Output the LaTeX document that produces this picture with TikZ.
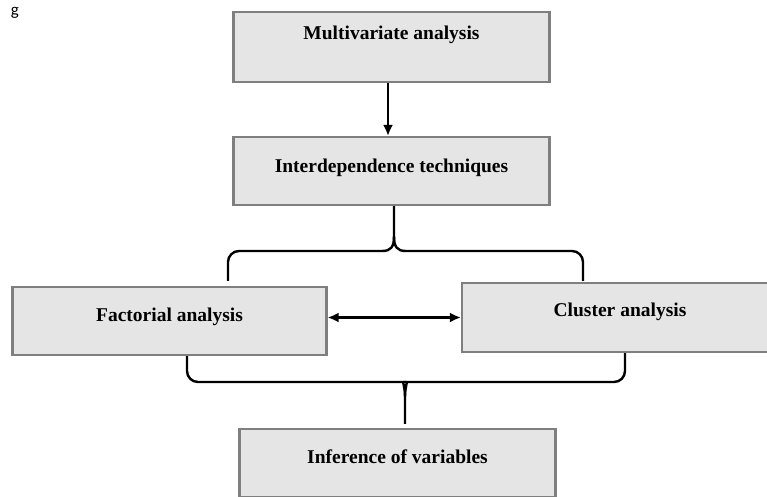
\documentclass[tikz,border=0pt]{standalone}
\usepackage{fontspec}
\setmainfont{Liberation Serif}
\newfontfamily\gfont{Carlito}
\usepackage{tikz}
\usetikzlibrary{arrows.meta}

\definecolor{boxfill}{HTML}{E5E5E5}
\definecolor{boxline}{HTML}{7F7F7F}

\begin{document}
\begin{tikzpicture}[x=1pt,y=-1pt,
		tbox/.style={draw=boxline,fill=boxfill,line width=2.2pt,inner sep=0pt,minimum width=316pt,
			font=\fontsize{19.5}{22}\selectfont\bfseries},
		tip/.tip={Latex[length=11pt,width=10pt]},
		link/.style={line width=2.2pt},
		brace/.style={line width=2.4pt}]
		\useasboundingbox (0,0) rectangle (767,496);
		\node (g) at (15,13) {\gfont\fontsize{17}{20}\selectfont g};
		\node [tbox,text height=27pt,text depth=43pt] (multi) at (391.5,47) {Multivariate analysis};
		\node [tbox,text height=35pt,text depth=33pt] (inter) at (391.5,171) {Interdependence techniques};
		\node [tbox,text height=34pt,text depth=34pt,minimum width=314pt] (fact) at (169.5,321) {Factorial analysis};
		\node [tbox,text height=33pt,text depth=36pt] (clus) at (620,317.5) {Cluster analysis};
		\node [tbox,text height=34pt,text depth=34pt] (inf) at (397.5,463) {Inference of variables};
		\coordinate (tc) at (394,236);
		\coordinate (bc) at (405,397);
		\draw [link,-tip] ([xshift=-3.5pt]multi.south) -- ([xshift=-3.5pt]inter.north);
		\draw [link,tip-tip] (fact.east |- clus.west) -- (clus.west);
		% upper brace
		\draw [brace] ([xshift=2.5pt]inter.south) -- (tc) .. controls +(0,11) and +(9,0) .. (382,251) [rounded corners=11pt] -- (228,251) -- ([xshift=58.5pt,yshift=5pt]fact.north);
		\draw [brace] (tc) .. controls +(0,11) and +(-9,0) .. (406,251) [rounded corners=11pt] -- (583,251) -- ([xshift=-37pt,yshift=1pt]clus.north);
		% lower brace
		\draw [brace] ([xshift=17.5pt]fact.south) [rounded corners=11pt] -- (187,382) -- (393,382) [sharp corners] .. controls +(9,0) and +(0,-11) .. (bc) -- ([xshift=7.5pt,yshift=4pt]inf.north);
		\draw [brace] ([xshift=5pt]clus.south) [rounded corners=11pt] -- (625,382) -- (417,382) [sharp corners] .. controls +(-9,0) and +(0,-11) .. (bc);
	\end{tikzpicture}
\end{document}
